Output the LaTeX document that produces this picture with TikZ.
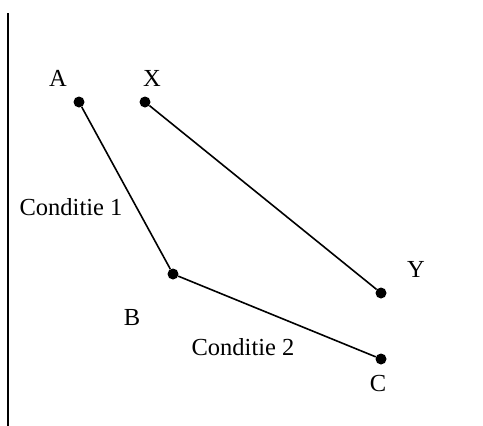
\documentclass[tikz,border=0pt]{standalone}
\usepackage{fontspec}
\setmainfont{Liberation Serif}
\begin{document}
\begin{tikzpicture}[x=1pt,y=-1pt,
  dot/.style={circle,fill=black,inner sep=0pt,minimum size=11pt},
  lbl/.style={font=\fontsize{24.5}{28}\selectfont,inner sep=0pt},
  seg/.style={line width=1.6pt}]
\useasboundingbox (0,0) rectangle (483,426);
\coordinate (top) at (8,13);
\coordinate (bot) at (8,426);
\draw[line width=1.8pt] (top) -- (bot);
\node[dot] (A) at (79,102) {};
\node[dot] (X) at (145,102) {};
\node[dot] (B) at (173,274) {};
\node[dot] (Y) at (381,293) {};
\node[dot] (C) at (381,359) {};
\draw[seg] (A) -- (B) -- (C);
\draw[seg] (X) -- (Y);
\node[lbl] (lA) at (58,78) {A};
\node[lbl] (lX) at (152,78) {X};
\node[lbl] (lY) at (416,269) {Y};
\node[lbl] (lB) at (132,318) {B};
\node[lbl] (lC) at (378,384) {C};
\node[lbl] (c1) at (71,207) {Conditie 1};
\node[lbl] (c2) at (243,347) {Conditie 2};
\end{tikzpicture}
\end{document}
